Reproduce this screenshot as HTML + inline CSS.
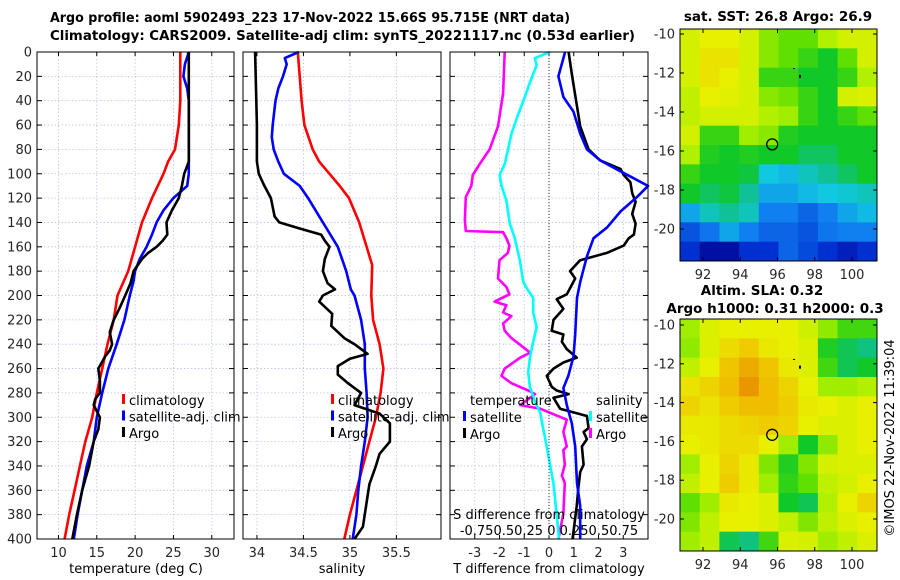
<!DOCTYPE html>
<html><head><meta charset="utf-8"><style>
html,body{margin:0;padding:0;background:#fff;}
svg{display:block;font-family:"DejaVu Sans","Liberation Sans",sans-serif;}
.tk{font-size:13px;fill:#262626;}
.lg{font-size:13px;fill:#000;}
.tt{font-size:13.5px;font-weight:bold;fill:#000;}
</style></head><body>
<svg id="fig" width="900" height="580" viewBox="0 0 900 580" xmlns="http://www.w3.org/2000/svg">
<rect width="900" height="580" fill="#fff"/>
<text class="tt" x="50" y="22" textLength="520" lengthAdjust="spacingAndGlyphs">Argo profile: aoml 5902493_223 17-Nov-2022 15.66S 95.715E (NRT data)</text>
<text class="tt" x="50" y="40" textLength="585" lengthAdjust="spacingAndGlyphs">Climatology: CARS2009. Satellite-adj clim: synTS_20221117.nc (0.53d earlier)</text>
<g id="g"></g>
</svg>
<script>
// ---------- data ----------
const tClimDepth=[0,20,40,60,80,90,100,120,140,160,180,200,220,240,260,280,300,320,340,360,380,400];
const tClim=[25.9,25.9,25.9,25.7,25.2,24.3,23.7,22.2,20.9,20.0,19.1,17.7,17.2,16.4,15.7,15.0,14.4,13.5,12.8,12.1,11.4,10.8];
const tSatDepth=[0,10,20,30,40,60,80,100,110,120,130,140,150,160,170,180,188,200,220,240,260,280,300,320,340,360,380,400];
const tSat=[27.0,26.5,26.3,26.8,27.0,27.0,27.0,27.0,26.8,25.0,23.7,22.8,22.2,21.5,20.6,20.0,19.8,19.3,18.6,17.6,16.5,15.7,15.0,14.6,13.7,13.1,12.5,12.0];
const tArgoDepth=[0,20,40,60,90,100,110,120,130,140,150,155,160,165,170,180,190,200,210,220,230,240,245,250,260,270,280,285,290,300,310,320,340,360,380,400];
const tArgo=[27.0,27.0,27.0,27.0,27.0,26.4,26.1,25.7,24.8,24.1,24.2,23.6,22.8,21.7,20.9,19.8,19.4,18.7,18.0,17.2,16.7,17.0,16.7,16.1,15.2,15.4,15.4,14.8,14.6,15.4,15.2,14.6,14.0,13.1,12.4,11.8];

const sClimDepth=[0,20,40,60,80,90,100,110,120,140,160,175,200,220,240,260,280,300,320,340,360,380,400];
const sClim=[34.44,34.46,34.48,34.51,34.60,34.67,34.78,34.89,34.99,35.10,35.18,35.24,35.23,35.25,35.32,35.36,35.33,35.28,35.21,35.14,35.07,35.00,34.94];
const sSatDepth=[0,5,10,20,30,40,60,70,80,90,100,110,120,140,160,180,195,200,220,240,260,280,300,320,340,360,380,400];
const sSat=[34.45,34.30,34.32,34.28,34.23,34.20,34.17,34.16,34.18,34.23,34.29,34.46,34.55,34.71,34.87,34.96,35.01,35.05,35.12,35.16,35.16,35.18,35.19,35.16,35.12,35.09,35.07,35.03];
const sArgoDepth=[0,60,90,100,110,120,135,140,145,150,155,160,170,180,190,195,200,205,215,225,235,240,248,252,258,265,272,280,290,297,305,320,330,340,355,370,390,400];
const sArgo=[33.98,34.0,34.0,34.02,34.08,34.15,34.19,34.24,34.46,34.69,34.73,34.78,34.73,34.71,34.76,34.84,34.71,34.67,34.81,34.80,34.94,35.05,35.19,35.0,34.87,34.87,34.98,35.12,35.05,35.32,35.43,35.43,35.32,35.28,35.21,35.18,35.14,35.05];

const dTSatDepth=[0,20,37,49,67,80,89,98,110,119,131,144,153,168,189,202,232,250,266,276,290,305,324,354,373,400];
const dTSat=[0.65,0.38,0.58,0.99,1.26,1.53,2.07,2.89,4.0,3.56,2.89,2.35,1.80,1.53,1.26,1.13,1.06,0.99,0.78,0.58,0.72,0.92,1.06,1.13,1.26,1.26];
const dTArgoDepth=[0,18,43,61,80,89,96,101,107,116,123,133,141,150,153,159,165,171,180,186,199,203,211,220,229,232,238,244,251,255,260,266,275,278,281,284,293,299,309,312,318,324,339,345,357,373,394,400];
const dTArgo=[0.79,0.92,1.12,1.26,1.6,2.07,2.89,3.02,3.29,3.36,3.5,3.36,3.5,3.43,3.22,3.02,2.34,1.26,0.85,1.06,0.72,0.31,0.58,0.18,0.11,0.58,0.52,0.72,1.12,0.58,0.18,-0.09,0.11,0.31,0.79,0.18,0.45,1.53,1.6,1.4,1.53,1.33,1.4,1.26,1.19,1.12,0.99,0.95];
const dSSatDepth=[0,5,11,25,37,55,67,80,92,101,110,122,141,153,171,189,196,202,214,226,238,251,263,275,287,296,324,354,394,400];
const dSSat=[0.01,-0.142,-0.125,-0.193,-0.244,-0.328,-0.379,-0.413,-0.447,-0.498,-0.48,-0.43,-0.396,-0.345,-0.295,-0.26,-0.21,-0.16,-0.16,-0.125,-0.16,-0.193,-0.21,-0.193,-0.142,-0.09,-0.023,0.044,0.095,0.1];
const dSArgoDepth=[0,34,61,80,92,101,110,119,138,147,148,153,159,165,171,186,193,199,205,208,214,217,223,229,235,238,247,251,260,266,272,278,281,290,293,302,312,324,327,339,348,354,379,400];
const dSArgo=[-0.447,-0.464,-0.515,-0.6,-0.70,-0.77,-0.785,-0.84,-0.85,-0.84,-0.464,-0.43,-0.40,-0.415,-0.50,-0.515,-0.43,-0.40,-0.55,-0.43,-0.464,-0.38,-0.464,-0.447,-0.38,-0.33,-0.19,-0.29,-0.447,-0.48,-0.38,-0.21,-0.14,-0.29,-0.09,0.18,0.145,0.18,0.145,0.16,0.13,0.16,0.145,0.095];

const depthTicks=[0,20,40,60,80,100,120,140,160,180,200,220,240,260,280,300,320,340,360,380,400];
const tTicks=[10,15,20,25,30];
const sTicks=[34,34.5,35,35.5];
const sTickLabels=["34","34.5","35","35.5"];
const dTicks=[-3,-2,-1,0,1,2,3];
const latTicks=[-10,-12,-14,-16,-18,-20];
const lonTicks=[92,94,96,98,100];

const sstGrid=[
[0.85,0.88,0.88,0.85,0.75,0.7,0.7,0.8,0.85,0.85],
[0.85,0.9,0.9,0.85,0.75,0.7,0.65,0.6,0.7,0.85],
[0.85,0.9,0.88,0.85,0.65,0.65,0.6,0.6,0.65,0.8],
[0.82,0.88,0.87,0.85,0.75,0.72,0.65,0.6,0.85,0.86],
[0.82,0.85,0.85,0.85,0.8,0.78,0.65,0.6,0.65,0.7],
[0.85,0.65,0.65,0.78,0.75,0.62,0.6,0.6,0.6,0.6],
[0.8,0.62,0.6,0.62,0.6,0.6,0.55,0.55,0.6,0.6],
[0.65,0.6,0.6,0.58,0.4,0.38,0.45,0.5,0.55,0.6],
[0.6,0.55,0.58,0.5,0.35,0.35,0.38,0.4,0.42,0.45],
[0.35,0.45,0.5,0.45,0.3,0.3,0.25,0.3,0.35,0.38],
[0.22,0.28,0.35,0.3,0.25,0.25,0.22,0.28,0.3,0.3],
[0.15,0.05,0.05,0.15,0.15,0.25,0.2,0.15,0.1,0.15]];
const slaGrid=[
[0.78,0.86,0.88,0.88,0.88,0.88,0.84,0.76,0.66,0.66],
[0.76,0.86,0.91,0.93,0.89,0.88,0.86,0.62,0.56,0.52],
[0.82,0.88,0.94,0.97,0.94,0.89,0.86,0.66,0.56,0.6],
[0.9,0.92,0.95,0.99,0.95,0.92,0.88,0.78,0.78,0.8],
[0.92,0.9,0.93,0.95,0.95,0.93,0.89,0.88,0.86,0.88],
[0.89,0.89,0.91,0.92,0.93,0.92,0.88,0.86,0.86,0.88],
[0.88,0.89,0.91,0.91,0.88,0.78,0.6,0.76,0.86,0.88],
[0.78,0.88,0.92,0.89,0.74,0.62,0.74,0.85,0.86,0.86],
[0.82,0.88,0.93,0.89,0.78,0.64,0.7,0.82,0.85,0.88],
[0.7,0.78,0.89,0.88,0.86,0.6,0.56,0.8,0.88,0.92],
[0.74,0.82,0.88,0.88,0.86,0.82,0.74,0.82,0.86,0.88],
[0.78,0.82,0.56,0.52,0.66,0.86,0.85,0.78,0.82,0.86]];

// ---------- drawing ----------
const NS="http://www.w3.org/2000/svg";
const G=document.getElementById('g');
function mk(tag,attrs,parent){const e=document.createElementNS(NS,tag);for(const k in attrs)e.setAttribute(k,attrs[k]);(parent||G).appendChild(e);return e;}
const Y0=52,Y1=539;
function yD(d){return Y0+(d/400)*(Y1-Y0);}
function lin(d0,d1,r0,r1){return v=>r0+(v-d0)/(d1-d0)*(r1-r0);}
const panels=[
 {x0:37,x1:234,sx:lin(7.2,32.9,37,234),ticks:tTicks,labels:tTicks.map(String),name:'temperature-panel'},
 {x0:243,x1:441,sx:lin(33.85,35.98,243,441),ticks:sTicks,labels:sTickLabels,name:'salinity-panel'},
 {x0:450,x1:648,sx:lin(-4,4,450,648),ticks:dTicks,labels:dTicks.map(String),name:'difference-panel'}];
const sxS=lin(-1,1,450,648);

panels.forEach((p,i)=>{
  const g=mk('g',{});
  
  
  p.g=g;
  p.ticks.forEach((t,j)=>{
    const x=p.sx(t);
    const l=mk('line',{x1:x,x2:x,y1:Y0,y2:Y1,stroke:'#b8c4e8','stroke-width':0.8,'stroke-dasharray':'1.5,2'},g);
    
    
    mk('line',{x1:x,x2:x,y1:Y1,y2:Y1-4,stroke:'#000'},g);
    mk('line',{x1:x,x2:x,y1:Y0,y2:Y0+4,stroke:'#000'},g);
    const tx=mk('text',{x:x,y:557,'text-anchor':'middle',class:'tk'},g);
    tx.textContent=p.labels[j];
    
    
  });
  depthTicks.forEach(d=>{
    const y=yD(d);
    if(d>0&&d<400){const l=mk('line',{x1:p.x0,x2:p.x1,y1:y,y2:y,stroke:'#b8c4e8','stroke-width':0.8,'stroke-dasharray':'1.5,2'},g);
      
      }
    mk('line',{x1:p.x0,x2:p.x0+5,y1:y,y2:y,stroke:'#000'},g);
    mk('line',{x1:p.x1,x2:p.x1-5,y1:y,y2:y,stroke:'#000'},g);
    if(i===0){const t=mk('text',{x:32,y:y+4.5,'text-anchor':'end',class:'tk'},g);t.textContent=d;
      
      }
  });
});
const zl=mk('line',{x1:549,x2:549,y1:Y0,y2:Y1,stroke:'#333','stroke-width':1,'stroke-dasharray':'1,2'});



function series(p,sx,depths,vals,color,name){
  const pts=depths.map((d,k)=>sx(vals[k]).toFixed(1)+','+yD(d).toFixed(1)).join(' ');
  const e=mk('polyline',{points:pts,fill:'none',stroke:color,'stroke-width':2.6,'stroke-linejoin':'round'},p.g);
  
  
}
series(panels[0],panels[0].sx,tClimDepth,tClim,'#ff0000','temp-climatology-line');
series(panels[0],panels[0].sx,tSatDepth,tSat,'#0000ff','temp-satellite-line');
series(panels[0],panels[0].sx,tArgoDepth,tArgo,'#000000','temp-argo-line');
series(panels[1],panels[1].sx,sClimDepth,sClim,'#ff0000','sal-climatology-line');
series(panels[1],panels[1].sx,sSatDepth,sSat,'#0000ff','sal-satellite-line');
series(panels[1],panels[1].sx,sArgoDepth,sArgo,'#000000','sal-argo-line');
series(panels[2],sxS,dSArgoDepth,dSArgo,'#ff00ff','sdiff-argo-line');
series(panels[2],sxS,dSSatDepth,dSSat,'#00ffff','sdiff-satellite-line');
series(panels[2],panels[2].sx,dTArgoDepth,dTArgo,'#000000','tdiff-argo-line');
series(panels[2],panels[2].sx,dTSatDepth,dTSat,'#0000ff','tdiff-satellite-line');

panels.forEach(p=>{const r=mk('rect',{x:p.x0,y:Y0,width:p.x1-p.x0,height:Y1-Y0,fill:'none',stroke:'#000','stroke-width':1});
  
  });

function legItem(x,y,color,label,name){
  const g=mk('g',{});
  
  
  mk('rect',{x:x,y:y-11,width:3,height:10,fill:color},g);
  const t=mk('text',{x:x+7,y:y,class:'lg'},g);t.textContent=label;
}
[[122,'climatology','#ff0000'],[122,'satellite-adj. clim','#0000ff'],[122,'Argo','#000000']].forEach((a,k)=>legItem(a[0],405+k*16.5,a[2],a[1],'legend-temp-'+k));
[[331,'climatology','#ff0000'],[331,'satellite-adj. clim','#0000ff'],[331,'Argo','#000000']].forEach((a,k)=>legItem(a[0],405+k*16.5,a[2],a[1],'legend-sal-'+k));
function txt(x,y,s,cls,anchor,name){const t=mk('text',{x:x,y:y,class:cls,'text-anchor':anchor||'start'});t.textContent=s;
  
  return t;}
txt(470,405,'temperature','lg','start','legend-temperature-heading');
txt(596,405,'salinity','lg','start','legend-salinity-heading');
legItem(463,422,'#0000ff','satellite','legend-tdiff-satellite');
legItem(463,439,'#000000','Argo','legend-tdiff-argo');
legItem(589,422,'#00ffff','satellite','legend-sdiff-satellite');
legItem(589,439,'#ff00ff','Argo','legend-sdiff-argo');
txt(549,519,'S difference from climatology','lg','middle','s-axis-title');
txt(549,535,'-0.750.50.25 0 0.250.50.75','lg','middle','s-axis-tick-labels');
txt(136,573,'temperature (deg C)','lg','middle','temp-x-axis-title');
txt(342,573,'salinity','lg','middle','sal-x-axis-title');
txt(549,573,'T difference from climatology','lg','middle','tdiff-x-axis-title');

const cmStops=[[0,[0,0,140]],[0.15,[0,48,208]],[0.3,[16,128,240]],[0.4,[16,200,224]],[0.5,[16,192,150]],[0.6,[16,200,40]],[0.7,[96,224,0]],[0.8,[176,240,0]],[0.88,[232,240,0]],[0.95,[240,190,0]],[1,[232,140,0]]];
function cmap(v){for(let i=1;i<cmStops.length;i++){if(v<=cmStops[i][0]){const a=cmStops[i-1],b=cmStops[i],f=(v-a[0])/(b[0]-a[0]);
  return 'rgb('+a[1].map((c,j)=>Math.round(c+(b[1][j]-c)*f)).join(',')+')';}}return 'rgb(232,140,0)';}

function map(y0,y1,grid,latY10,latY20,name){
  const x0=680,x1=877;
  const g=mk('g',{});
  
  
  const rows=grid.length,cols=grid[0].length,cw=(x1-x0)/cols,ch=(y1-y0)/rows;
  grid.forEach((row,r)=>row.forEach((v,c)=>{
    const e=mk('rect',{x:x0+c*cw,y:y0+r*ch,width:cw+0.5,height:ch+0.5,fill:cmap(v)},g);
    
    
  }));
  const ly=lin(-10,-20,latY10,latY20), lx=lin(92,100,703,852);
  latTicks.forEach(t=>{const y=ly(t);mk('line',{x1:x0,x2:x0+4,y1:y,y2:y,stroke:'#000'},g);mk('line',{x1:x1,x2:x1-4,y1:y,y2:y,stroke:'#000'},g);
    const tx=mk('text',{x:675,y:y+4.5,'text-anchor':'end',class:'tk'},g);tx.textContent=t;
    
    });
  lonTicks.forEach(t=>{const x=lx(t);mk('line',{x1:x,x2:x,y1:y1,y2:y1-4,stroke:'#000'},g);mk('line',{x1:x,x2:x,y1:y0,y2:y0+4,stroke:'#000'},g);
    const tx=mk('text',{x:x,y:y1+18,'text-anchor':'middle',class:'tk'},g);tx.textContent=t;
    
    });
  mk('rect',{x:x0,y:y0,width:x1-x0,height:y1-y0,fill:'none',stroke:'#000'},g);
  const cy=ly(-15.66),cx=lx(95.715);
  const c=mk('circle',{cx:cx,cy:cy,r:5.5,fill:'none',stroke:'#000','stroke-width':1.3},g);
  
  
  mk('rect',{x:799,y:ly(-12.2)-2,width:2,height:3,fill:'#000'},g);
  mk('rect',{x:793,y:ly(-11.8)-1,width:2,height:1,fill:'#000'},g);
}
map(29,261,sstGrid,34,229,'sst-map');
map(319,551,slaGrid,325,519,'sla-map');
txt(778,21,'sat. SST: 26.8 Argo: 26.9','tt','middle','sst-map-title');
txt(762,295,'Altim. SLA: 0.32','tt','middle','sla-map-title-1');
txt(775,313,'Argo h1000: 0.31 h2000: 0.3','tt','middle','sla-map-title-2');
const cr=mk('text',{x:0,y:0,class:'lg','text-anchor':'middle',transform:'translate(894,438) rotate(-90)'});
cr.textContent='©IMOS 22-Nov-2022 11:39:04';


</script>
</body></html>
